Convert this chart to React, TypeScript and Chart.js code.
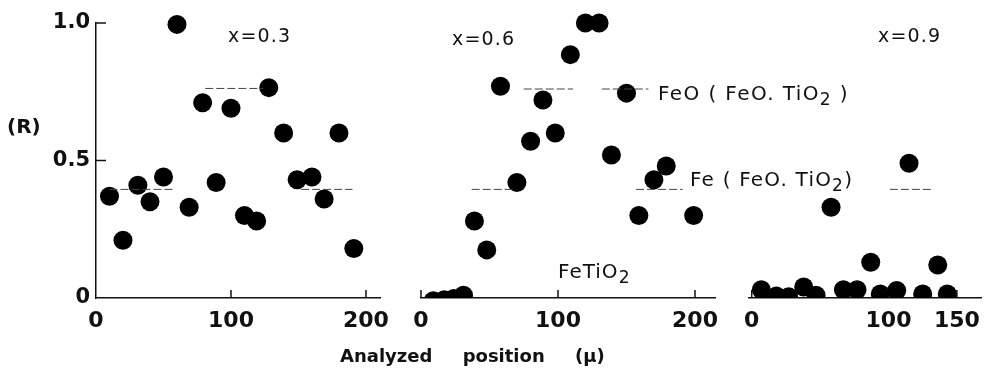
import React, { useEffect, useRef } from "react";
import { Chart, registerables } from "chart.js";

Chart.register(...registerables);

// ---------- data: panel x = 0.3 ----------
const P1_POS = [10, 20, 31, 40, 50, 60, 69, 79, 89, 100, 110, 119, 128, 139, 149, 160, 169, 180, 191];
const P1_R = [0.37, 0.21, 0.41, 0.35, 0.44, 0.995, 0.33, 0.71, 0.42, 0.69, 0.3, 0.28, 0.765, 0.6, 0.43, 0.44, 0.36, 0.6, 0.18];
const P1_DASH_FROM = [10, 81, 152];
const P1_DASH_TO = [57, 124, 190];
const P1_DASH_R = [0.395, 0.762, 0.395];
const P1_XTICKS = [0, 100, 200];
const P1_XMARKS = [100, 200];

// ---------- data: panel x = 0.6 ----------
const P2_POS = [9, 17, 24, 31, 39, 48, 58, 70, 80, 89, 98, 109, 120, 130, 139, 150, 159, 170, 179, 199];
const P2_R = [-0.01, -0.006, -0.002, 0.01, 0.28, 0.175, 0.77, 0.42, 0.57, 0.72, 0.6, 0.885, 1.0, 1.0, 0.52, 0.745, 0.3, 0.43, 0.48, 0.3];
const P2_DASH_FROM = [37, 157, 75, 132];
const P2_DASH_TO = [67, 191, 111, 166];
const P2_DASH_R = [0.395, 0.395, 0.76, 0.76];
const P2_XTICKS = [0, 100, 200];
const P2_XMARKS = [0, 100, 200];

// ---------- data: panel x = 0.9 ----------
const P3_POS = [7, 18, 27, 38, 47, 58, 67, 77, 87, 94, 106, 115, 125, 136, 143];
const P3_R = [0.03, 0.007, 0.005, 0.04, 0.01, 0.33, 0.03, 0.03, 0.13, 0.015, 0.027, 0.49, 0.015, 0.12, 0.015];
const P3_DASH_FROM = [101];
const P3_DASH_TO = [133];
const P3_DASH_R = [0.395];
const P3_XTICKS = [0, 100, 150];
const P3_XMARKS = [0, 100, 150];

// ---------- shared y axis ----------
const Y_TICKS = [0, 0.5, 1.0];
const Y_TICK_LABELS = ["0", "0.5", "1.0"];
const Y_MARKS = [0.5, 1.0];

const W = 991;
const H = 378;
const INK = "#111";
const FONT = "'DejaVu Sans', sans-serif";

type PanelCfg = {
  pos: number[];
  r: number[];
  dFrom: number[];
  dTo: number[];
  dR: number[];
  xTicks: number[];
  xMarks: number[];
  showY: boolean;
  left: number;
  right: number;
  xMin: number;
  xMax: number;
};

const TOP = 23;
const BOTTOM = 298;

const PANELS: PanelCfg[] = [
  { pos: P1_POS, r: P1_R, dFrom: P1_DASH_FROM, dTo: P1_DASH_TO, dR: P1_DASH_R, xTicks: P1_XTICKS, xMarks: P1_XMARKS, showY: true, left: 96, right: 380, xMin: 0, xMax: 210.4 },
  { pos: P2_POS, r: P2_R, dFrom: P2_DASH_FROM, dTo: P2_DASH_TO, dR: P2_DASH_R, xTicks: P2_XTICKS, xMarks: P2_XMARKS, showY: false, left: 421, right: 715, xMin: 0, xMax: 214.6 },
  { pos: P3_POS, r: P3_R, dFrom: P3_DASH_FROM, dTo: P3_DASH_TO, dR: P3_DASH_R, xTicks: P3_XTICKS, xMarks: P3_XMARKS, showY: false, left: 749, right: 987, xMin: -2, xMax: 168 },
];

function makePanel(canvas: HTMLCanvasElement, cfg: PanelCfg) {
  const insideTicks = {
    id: "insideTicks",
    beforeDatasetsDraw(chart: any) {
      const { ctx, chartArea, scales } = chart;
      ctx.save();
      ctx.strokeStyle = INK;
      ctx.lineWidth = 1.5;
      cfg.xMarks.forEach((v) => {
        const px = scales.x.getPixelForValue(v);
        ctx.beginPath();
        ctx.moveTo(px, chartArea.bottom);
        ctx.lineTo(px, chartArea.bottom - 8);
        ctx.stroke();
      });
      if (cfg.showY) {
        Y_MARKS.forEach((v) => {
          const py = scales.y.getPixelForValue(v);
          ctx.beginPath();
          ctx.moveTo(chartArea.left, py);
          ctx.lineTo(chartArea.left + 10, py);
          ctx.stroke();
        });
      }
      ctx.restore();
    },
  };

  const dashSets = cfg.dFrom.map((a, i) => ({
    data: [
      { x: a, y: cfg.dR[i] },
      { x: cfg.dTo[i], y: cfg.dR[i] },
    ],
    showLine: true,
    borderColor: "#444",
    borderWidth: 1,
    borderDash: [8, 3],
    pointRadius: 0,
    clip: false as any,
  }));

  const dots = {
    data: cfg.pos.map((x, i) => ({ x, y: cfg.r[i] })),
    pointRadius: 9.5,
    pointBackgroundColor: "#000",
    pointBorderWidth: 0,
    showLine: false,
    clip: { left: false, right: false, top: false, bottom: 0 } as any,
  };

  return new Chart(canvas, {
    type: "scatter",
    data: { datasets: [...dashSets, dots] as any },
    plugins: [insideTicks],
    options: {
      animation: false,
      responsive: false,
      maintainAspectRatio: false,
      devicePixelRatio: 1,
      events: [],
      layout: {
        padding: {
          left: cfg.showY ? 0 : cfg.left,
          right: W - cfg.right,
          top: TOP,
          bottom: 0,
        },
      },
      plugins: { legend: { display: false }, tooltip: { enabled: false } },
      scales: {
        x: {
          type: "linear",
          position: "bottom",
          min: cfg.xMin,
          max: cfg.xMax,
          grid: { display: false, drawTicks: false },
          border: { display: true, color: INK, width: 1.5 },
          ticks: {
            color: INK,
            font: { family: FONT, size: 22, weight: "bold" },
            padding: 10,
            maxRotation: 0,
            autoSkip: false,
            callback: (v: any) => String(v),
          },
          afterBuildTicks: (s: any) => {
            s.ticks = cfg.xTicks.map((v) => ({ value: v }));
          },
          afterFit: (s: any) => {
            s.height = H - BOTTOM;
          },
        },
        y: {
          type: "linear",
          display: cfg.showY,
          min: 0,
          max: 1,
          grid: { display: false, drawTicks: false },
          border: { display: true, color: INK, width: 1.5 },
          ticks: {
            color: INK,
            font: { family: FONT, size: 21, weight: "bold" },
            padding: 6,
            callback: (_v: any, i: number) => Y_TICK_LABELS[i],
          },
          afterBuildTicks: (s: any) => {
            s.ticks = Y_TICKS.map((v) => ({ value: v }));
          },
          afterFit: (s: any) => {
            s.width = cfg.showY ? cfg.left : 0;
          },
        },
      },
    } as any,
  });
}

const txt = (left: number, top: number, size: number, bold = false, spacing = 0): React.CSSProperties => ({
  position: "absolute",
  left,
  top,
  fontFamily: FONT,
  fontSize: size,
  fontWeight: bold ? "bold" : "normal",
  lineHeight: 1,
  whiteSpace: "pre",
  letterSpacing: spacing,
  color: INK,
});

const sub: React.CSSProperties = { fontSize: "0.85em", position: "relative", top: "0.3em" };

export default function App() {
  const r1 = useRef<HTMLCanvasElement>(null);
  const r2 = useRef<HTMLCanvasElement>(null);
  const r3 = useRef<HTMLCanvasElement>(null);

  useEffect(() => {
    const charts = [r1, r2, r3].map((r, i) => makePanel(r.current as HTMLCanvasElement, PANELS[i]));
    return () => charts.forEach((c) => c.destroy());
  }, []);

  const cs: React.CSSProperties = { position: "absolute", left: 0, top: 0, width: W, height: H };

  return (
    <div style={{ position: "absolute", left: 0, top: 0, width: W, height: H, background: "#fff", overflow: "hidden" }}>
      <canvas ref={r1} width={W} height={H} style={cs} />
      <canvas ref={r2} width={W} height={H} style={cs} />
      <canvas ref={r3} width={W} height={H} style={cs} />
      <div style={txt(228, 26, 19, false, 1.2)}>x=0.3</div>
      <div style={txt(452, 29, 19, false, 1.2)}>x=0.6</div>
      <div style={txt(878, 26, 19, false, 1.2)}>x=0.9</div>
      <div style={txt(658, 83, 20, false, 1.4)}>
        FeO ( FeO. TiO<span style={sub}>2</span> )
      </div>
      <div style={txt(690, 169, 20, false, 1.2)}>
        Fe ( FeO. TiO<span style={sub}>2</span>)
      </div>
      <div style={txt(558, 261, 20, false, 1)}>
        FeTiO<span style={sub}>2</span>
      </div>
      <div style={txt(7, 116, 20, true)}>(R)</div>
      <div style={{ ...txt(340, 347, 18, true), wordSpacing: 24 }}>Analyzed position (μ)</div>
    </div>
  );
}
